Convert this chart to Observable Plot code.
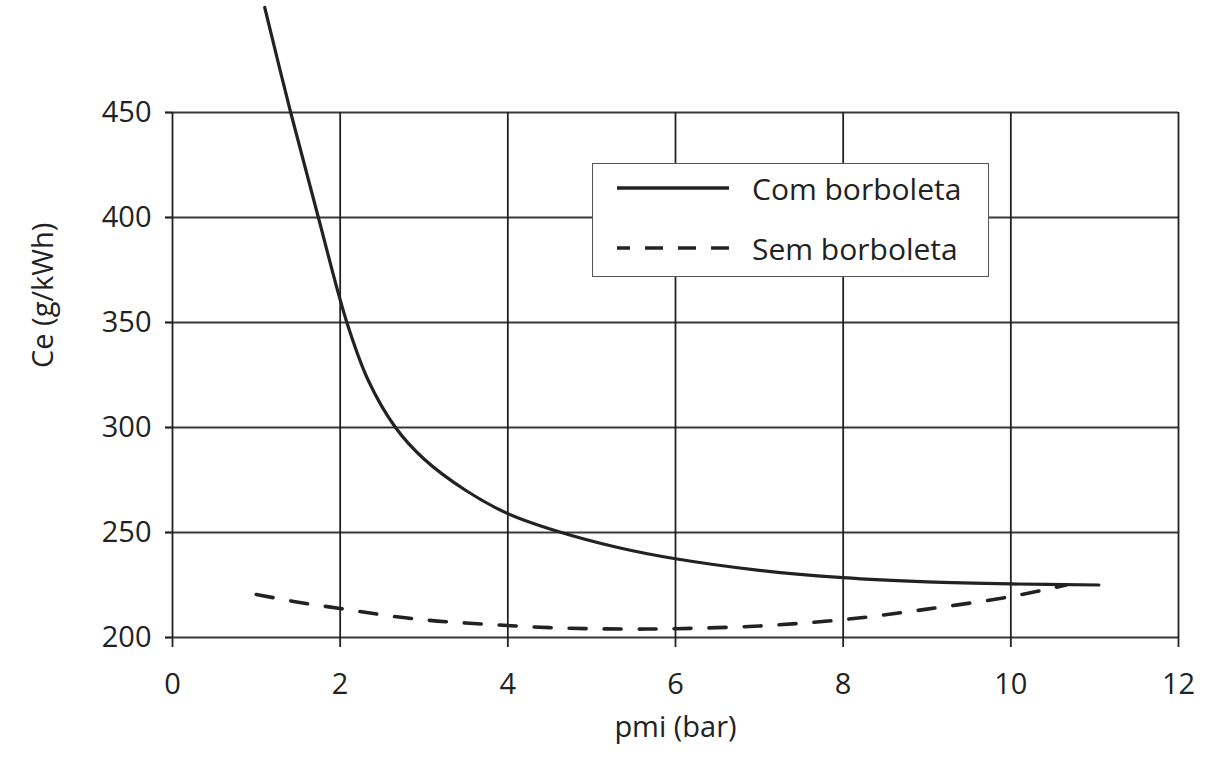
<!DOCTYPE html>
<html>
<head>
<meta charset="utf-8">
<script src="https://cdn.jsdelivr.net/npm/d3@7"></script>
<script src="https://cdn.jsdelivr.net/npm/@observablehq/plot@0.6"></script>
<style>
  html, body { margin: 0; padding: 0; background: #fff; }
  #wrap { position: relative; width: 1231px; height: 762px; font-family: "Open Sans", sans-serif; color: #222; }
  #legend { position: absolute; left: 592px; top: 163px; width: 397px; height: 114px; box-sizing: border-box;
            border: 1.5px solid #555; background: #fff; }
  #legend svg { position: absolute; left: 24px; }
  #legend span { position: absolute; left: 159px; font-size: 30px; white-space: nowrap; line-height: 40px; }
</style>
</head>
<body>
<div id="wrap"></div>
<script>
// Series: Com borboleta (solid)
const comX = [1.1, 1.41, 1.74, 2.08, 2.34, 2.66, 3.0, 3.5, 4.0, 4.6, 5.3, 6.0, 7.0, 8.0, 9.0, 10.0, 11.05];
const comY = [500, 450, 400, 350, 322, 300, 285, 270, 259, 250.5, 243, 237.5, 232, 228.5, 226.5, 225.5, 225];
// Series: Sem borboleta (dashed)
const semX = [1.0, 1.5, 2.0, 2.5, 3.0, 3.5, 4.0, 4.5, 5.0, 5.5, 6.0, 7.0, 8.0, 9.0, 10.0, 10.66];
const semY = [220.5, 216.8, 213.8, 210.8, 208.4, 206.9, 205.7, 204.7, 204.2, 204, 204.2, 205.5, 208.5, 213.5, 219.5, 225];

const seriesNames = ["Com borboleta", "Sem borboleta"];
const xTicks = [0, 2, 4, 6, 8, 10, 12];
const yTicks = [200, 250, 300, 350, 400, 450];
const xLabel = "pmi (bar)";
const yLabel = "Ce (g/kWh)";

const com = comX.map((x, i) => ({x, y: comY[i]}));
const sem = semX.map((x, i) => ({x, y: semY[i]}));

const ink = "#222";
const chart = Plot.plot({
  width: 1231,
  height: 762,
  marginTop: 112,
  marginBottom: 125,
  marginLeft: 172,
  marginRight: 53,
  x: {domain: [0, 12]},
  y: {domain: [200, 450]},
  style: {fontFamily: "Open Sans, sans-serif", fontSize: "29px", color: ink, background: "transparent", overflow: "visible"},
  marks: [
    Plot.gridX(xTicks, {stroke: ink, strokeOpacity: 1, strokeWidth: 1.8}),
    Plot.gridY(yTicks, {stroke: ink, strokeOpacity: 0.9, strokeWidth: 2.2}),
    Plot.axisX(xTicks, {tickSize: 10, tickPadding: 26, fontSize: 29, label: null, strokeWidth: 1.8}),
    Plot.axisY(yTicks, {tickSize: 7, tickPadding: 14, fontSize: 29, label: null, strokeWidth: 2.2}),
    Plot.line(com, {x: "x", y: "y", stroke: ink, strokeWidth: 3.2, curve: "catmull-rom"}),
    Plot.line(sem, {x: "x", y: "y", stroke: ink, strokeWidth: 3.6, strokeDasharray: "17 18", curve: "catmull-rom"}),
    Plot.text([xLabel], {text: d => d, frameAnchor: "bottom", dy: 99, fontSize: 29, fill: ink}),
    Plot.text([yLabel], {text: d => d, frameAnchor: "left", dx: -129, dy: -7, rotate: -90, fontSize: 29, fill: ink})
  ]
});

const wrap = document.getElementById("wrap");
wrap.appendChild(chart);

// Legend (inside the plot area, as in the reference)
const legend = document.createElement("div");
legend.id = "legend";
const styles = [{dash: null}, {dash: "18 15"}];
seriesNames.forEach((name, i) => {
  const top = i === 0 ? 4 : 64;
  const svg = d3.create("svg").attr("width", 115).attr("height", 40)
    .style("top", top + "px");
  svg.append("line").attr("x1", 112).attr("x2", 0).attr("y1", 20).attr("y2", 20)
    .attr("stroke", ink).attr("stroke-width", 3.4)
    .attr("stroke-dasharray", styles[i].dash);
  legend.appendChild(svg.node());
  const span = document.createElement("span");
  span.textContent = name;
  span.style.top = (top + 1) + "px";
  legend.appendChild(span);
});
wrap.appendChild(legend);
</script>
</body>
</html>
